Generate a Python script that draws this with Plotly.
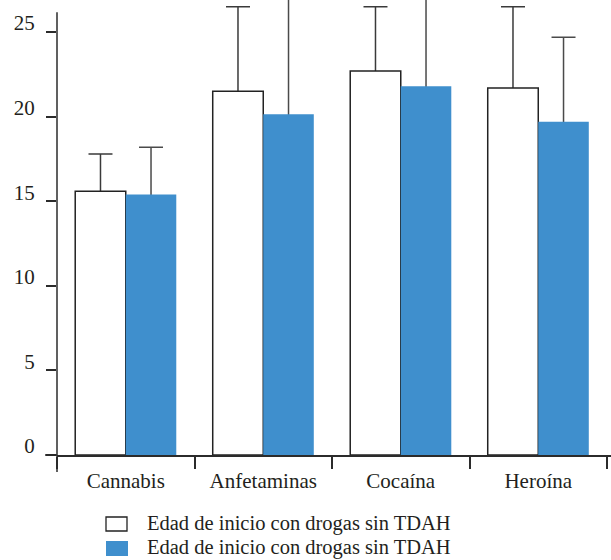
import plotly.graph_objects as go

categories = ["Cannabis", "Anfetaminas", "Cocaína", "Heroína"]
series_names = ["Edad de inicio con drogas sin TDAH", "Edad de inicio con drogas sin TDAH"]
values_white = [15.6, 21.5, 22.7, 21.7]
errors_white = [2.2, 5.0, 3.8, 4.8]
values_blue = [15.4, 20.15, 21.8, 19.7]
errors_blue = [2.8, 7.5, 6.5, 5.0]
y_tickvals = [0, 5, 10, 15, 20, 25]

FONT = "Liberation Serif"
TXT = "#231f20"
AX = "#2b2b2b"
BLUE = "#3F8FCD"

W, H = 611, 560
ML, MR, MT, MB = 57, 0, 0, 105
PW, PH = W - ML - MR, H - MT - MB
Y_TOP = 26.9      # top of plotting range (image top)
Y_AXIS_TOP = 26.18  # where the drawn y-axis line ends


def px(x):
    return (x - ML) / PW


def py(y):
    return (H - MB - y) / PH


fig = go.Figure()
# error bars first (beneath the bars, so the lower ends are hidden)
for vals, errs, grp, col in [(values_white, errors_white, "a", "#3a3a3a"),
                             (values_blue, errors_blue, "b", "#4a4a4a")]:
    fig.add_trace(go.Bar(
        x=categories, y=vals, offsetgroup=grp, showlegend=False,
        marker=dict(color="rgba(0,0,0,0)", line=dict(width=0)),
        error_y=dict(type="data", symmetric=False, array=errs,
                     arrayminus=[1.0] * len(errs), color=col,
                     thickness=1.5, width=12),
        hoverinfo="skip",
    ))
fig.add_trace(go.Bar(
    x=categories, y=values_white, name=series_names[0], offsetgroup="a",
    marker=dict(color="white", line=dict(color="#222222", width=1.5)),
))
fig.add_trace(go.Bar(
    x=categories, y=values_blue, name=series_names[1], offsetgroup="b",
    marker=dict(color=BLUE, line=dict(width=0)),
))

fig.update_layout(
    width=W, height=H,
    margin=dict(l=ML, r=MR, t=MT, b=MB),
    paper_bgcolor="white", plot_bgcolor="white",
    barmode="group", bargap=0.265, bargroupgap=0,
    font=dict(family=FONT, size=21, color=TXT),
    showlegend=False,
    xaxis=dict(
        range=[-0.5, 3.529], showgrid=False, zeroline=False,
        showline=True, linecolor=AX, linewidth=1.5,
        ticks="outside", tickson="boundaries", ticklen=12,
        tickcolor=AX, tickwidth=1.5, ticklabelstandoff=6,
        tickfont=dict(family=FONT, size=21, color=TXT),
    ),
    yaxis=dict(
        range=[0, Y_TOP], showgrid=False, zeroline=False,
        showline=False,
        ticks="outside", ticklen=10, tickcolor=AX, tickwidth=1.5,
        tickvals=y_tickvals, ticklabelstandoff=7, ticklabelshift=-9,
        tickfont=dict(family=FONT, size=21, color=TXT),
    ),
)

# y-axis line (ends below the plot top) extending below the x-axis
fig.add_shape(type="line", xref="paper", yref="paper",
              x0=0, x1=0, y0=-17 / PH, y1=Y_AXIS_TOP / Y_TOP,
              line=dict(color=AX, width=1.5))
# x-axis line extension to the left of the y-axis
fig.add_shape(type="line", xref="paper", yref="paper",
              x0=px(45), x1=0, y0=0, y1=0,
              line=dict(color=AX, width=1.5))

# legend (drawn manually to match the box sizes)
legend_rows = [
    dict(name=series_names[0], fill="white", line=dict(color="#222222", width=1.3),
         box=(106, 517, 127, 531), yc=523.5),
    dict(name=series_names[1], fill=BLUE, line=dict(width=0),
         box=(106, 541, 128, 556), yc=547.5),
]
for row in legend_rows:
    x0, y0, x1, y1 = row["box"]
    fig.add_shape(type="rect", xref="paper", yref="paper",
                  x0=px(x0), x1=px(x1), y0=py(y1), y1=py(y0),
                  fillcolor=row["fill"], line=row["line"])
    fig.add_annotation(xref="paper", yref="paper", x=px(145), y=py(row["yc"]),
                       xanchor="left", yanchor="middle", showarrow=False,
                       text=row["name"], font=dict(family=FONT, size=20.5, color=TXT))

fig.write_html("out.html",
               config={"displayModeBar": False},
               post_script="document.body.style.margin='0';"
                           "document.body.style.overflow='hidden';")
